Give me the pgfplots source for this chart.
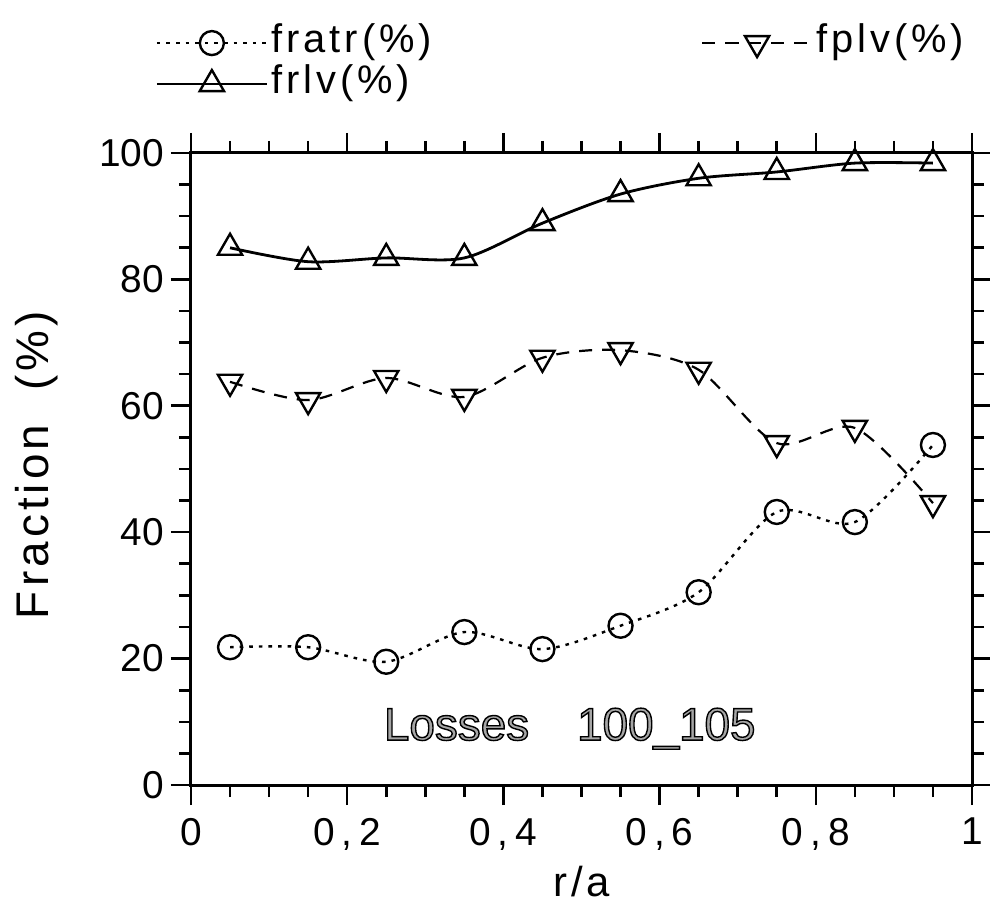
\documentclass[border=0pt]{standalone}
\usepackage{fontspec}
\setmainfont{Liberation Sans}[LetterSpace=9]
\newfontfamily\plainsans{Liberation Sans}
\newfontfamily\legsans{Liberation Sans}[LetterSpace=10]
\usepackage{pgfplots}
\pgfplotsset{compat=1.18}
\newcommand{\cm}{\kern3.5bp,\kern3.5bp}
\begin{document}
\begin{tikzpicture}
\begin{axis}[
  at={(0,0)}, anchor=south west,
  scale only axis, width=390.5bp, height=316bp,
  xmin=0, xmax=1, ymin=0, ymax=100,
  xtick={0,0.2,0.4,0.6,0.8,1}, ytick={0,20,40,60,80,100},
  xticklabels={0,0\cm2,0\cm4,0\cm6,0\cm8,1},
  minor x tick num=3, minor y tick num=3,
  tick align=outside,
  major tick length=10bp, minor tick length=6bp,
  axis line style={line width=1.5bp},
  every tick/.style={line width=1.3bp, black},
  /pgf/number format/assume math mode=true,
  ticklabel style={font=\plainsans\fontsize{19.5}{20}\selectfont},
  xticklabel style={yshift=-3bp},
  xlabel={r/a}, ylabel={Fraction\ \ (\%)},
  xlabel style={at={(axis description cs:0.5,-0.177)}, anchor=base, font=\fontsize{21}{22}\selectfont},
  ylabel style={at={(axis description cs:-0.183,0.506)}, rotate=0, anchor=base, font=\fontsize{23}{24}\selectfont},
  legend columns=2,
  legend image code/.code={\draw[mark repeat=2,mark phase=2] plot coordinates {(0bp,0bp)(27.5bp,0bp)(55bp,0bp)};},
  legend style={at={(axis description cs:-0.046,1.207)}, anchor=north west, draw=none, fill=none,
    inner sep=0pt, row sep=0pt, font=\legsans\fontsize{20}{20}\selectfont,
    nodes={inner sep=1.5bp, text height=13.5bp, text depth=4bp},
    /tikz/column 2/.style={column sep=133bp}},
  legend cell align=left,
]
\addplot[black, line width=1.2bp, dash pattern=on 1.8bp off 3bp, smooth, mark=o, mark size=6bp, mark options={solid, fill=white, line width=1.2bp}]
 coordinates {(0.05,21.8)(0.15,21.8)(0.25,19.5)(0.35,24.2)(0.45,21.5)(0.55,25.2)(0.65,30.5)(0.75,43.2)(0.85,41.6)(0.95,53.8)};
\addlegendentry{fratr(\%)}
\addplot[black, line width=1.1bp, dash pattern=on 6.5bp off 5bp, smooth, mark=triangle, mark size=7bp, mark options={solid, fill=white, rotate=180, line width=1.2bp}]
 coordinates {(0.05,63.8)(0.15,60.9)(0.25,64.4)(0.35,61.4)(0.45,67.6)(0.55,68.8)(0.65,65.7)(0.75,54.1)(0.85,56.5)(0.95,44.6)};
\addlegendentry{fplv(\%)}
\addplot[black, line width=1.4bp, smooth, mark=triangle, mark size=7bp, mark options={solid, fill=white, line width=1.2bp}]
 coordinates {(0.05,85.0)(0.15,82.8)(0.25,83.4)(0.35,83.4)(0.45,88.9)(0.55,93.5)(0.65,96.0)(0.75,97.0)(0.85,98.4)(0.95,98.4)};
\addlegendentry{frlv(\%)}
\node[anchor=base, text=black!35, font=\plainsans\fontsize{23}{24}\selectfont] at (axis description cs:0.485,0.071)
  {\special{pdf:literal direct 2 Tr 0.7 w 0 G}Losses\hspace{24bp}100\_105\special{pdf:literal direct 0 Tr}};
\end{axis}
\pgfresetboundingbox
\path (-95.5bp,-59.5bp) rectangle (399.5bp,392.5bp);
\end{tikzpicture}
\end{document}
